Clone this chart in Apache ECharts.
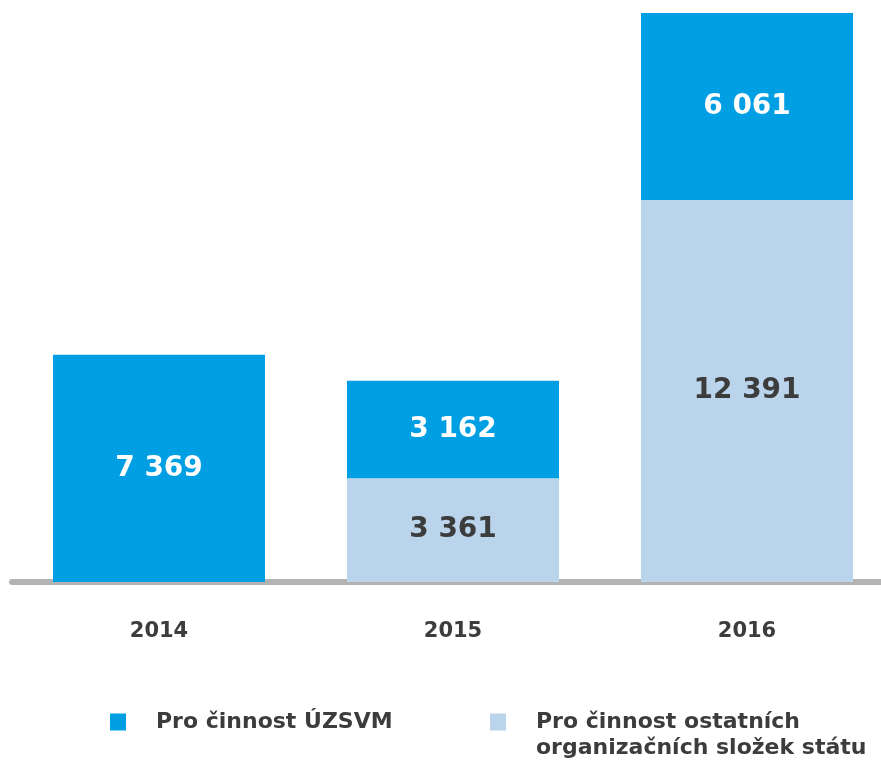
<!DOCTYPE html>
<html>
<head>
<meta charset="utf-8">
<script src="https://cdn.jsdelivr.net/npm/echarts@6/dist/echarts.min.js"></script>
<style>
  html, body { margin: 0; padding: 0; background: #fff; }
  #chart { width: 881px; height: 762px; }
</style>
</head>
<body>
<div id="chart"></div>
<script>
// data
var years = ['2014', '2015', '2016'];
var uzsvm = [7369, 3162, 6061];          // Pro činnost ÚZSVM
var ostatni = [0, 3361, 12391];          // Pro činnost ostatních organizačních složek státu

var nameA = 'Pro činnost ÚZSVM';
var nameB = 'Pro činnost ostatních organizačních složek státu';

var font = 'DejaVu Sans';
var darkText = '#3c3c3c';

function fmt(p) {
    if (!p.value) return '';
    return String(p.value).replace(/\B(?=(\d{3})+(?!\d))/g, ' ');
}

var myChart = echarts.init(document.getElementById('chart'));

var option = {
    animation: false,
    grid: { left: 12, width: 882, top: 11.5, bottom: 180, outerBoundsMode: 'none' },
    legend: [
        {
            data: [nameA],
            left: 110, top: 709, padding: 0,
            itemWidth: 16, itemHeight: 17,
            icon: 'rect',
            textStyle: {
                fontFamily: font, fontWeight: 'bold', fontSize: 22,
                color: darkText, lineHeight: 26, padding: [0, 0, 0, 25]
            }
        },
        {
            data: [nameB],
            left: 490, top: 709, padding: 0,
            itemWidth: 16, itemHeight: 43,
            // square at the top, so it sits beside the first line of text
            icon: 'path://M0,0h16v17h-16z M0,42.99h0.01v0.01h-0.01z',
            formatter: function () {
                return 'Pro činnost ostatních\norganizačních složek státu';
            },
            textStyle: {
                fontFamily: font, fontWeight: 'bold', fontSize: 22,
                color: darkText, lineHeight: 26, padding: [0, 0, 0, 25]
            }
        }
    ],
    xAxis: {
        type: 'category',
        data: years,
        offset: 3,
        axisLine: { lineStyle: { color: '#b3b3b3', width: 6 } },
        axisTick: { show: false },
        axisLabel: {
            margin: 36,
            fontFamily: font, fontWeight: 'bold', fontSize: 21,
            color: darkText
        }
    },
    yAxis: {
        type: 'value',
        min: 0, max: 18500,
        show: false,
        splitLine: { show: false }
    },
    series: [
        {
            name: nameB,
            type: 'bar',
            stack: 'total',
            barWidth: 212,
            data: ostatni,
            itemStyle: { color: '#bad4ec' },
            label: {
                show: true, position: 'inside', formatter: fmt,
                fontFamily: font, fontWeight: 'bold', fontSize: 28, color: darkText
            }
        },
        {
            name: nameA,
            type: 'bar',
            stack: 'total',
            barWidth: 212,
            data: uzsvm,
            itemStyle: { color: '#009fe3' },
            label: {
                show: true, position: 'inside', formatter: fmt,
                fontFamily: font, fontWeight: 'bold', fontSize: 28, color: '#ffffff'
            }
        }
    ]
};

myChart.setOption(option);
window.addEventListener('resize', function () {
    myChart.resize();
});
</script>
</body>
</html>
